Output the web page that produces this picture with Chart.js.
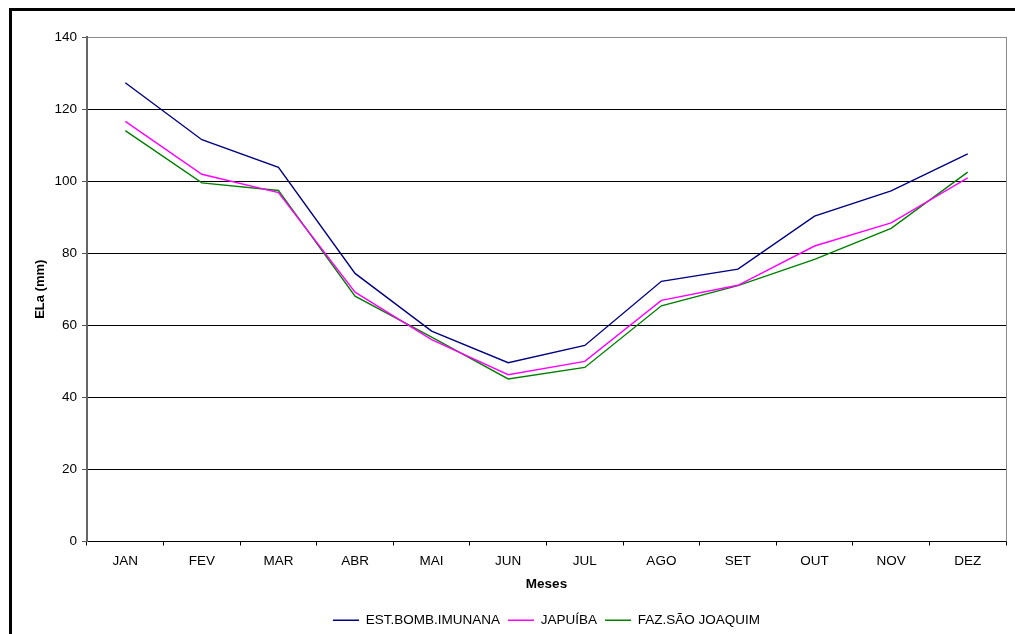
<!DOCTYPE html>
<html>
<head>
<meta charset="utf-8">
<script src="https://cdn.jsdelivr.net/npm/chart.js@4/dist/chart.umd.min.js"></script>
<style>
  html, body { margin: 0; padding: 0; background: #fff; overflow: hidden; }
  #wrap { position: relative; width: 1015px; height: 634px; }
  #frame { position: absolute; left: 9px; top: 8px; width: 1100px; height: 700px; border: 3px solid #000; box-sizing: border-box; pointer-events: none; }
  canvas { position: absolute; left: 0; top: 0; }
</style>
</head>
<body>
<div id="wrap">
  <canvas id="c" width="1015" height="634"></canvas>
  <div id="frame"></div>
</div>
<script>
// Evapotranspiração real mensal (mm) por estação
const months = ['JAN','FEV','MAR','ABR','MAI','JUN','JUL','AGO','SET','OUT','NOV','DEZ'];
const estBombImunana = [127.3, 111.5, 103.8, 74.4, 58.4, 49.6, 54.4, 72.2, 75.6, 90.3, 97.3, 107.6];
const japuiba        = [116.6, 101.9, 96.8, 69.2, 56.0, 46.3, 50.0, 66.9, 71.1, 82.0, 88.4, 100.9];
const fazSaoJoaquim  = [114.0, 99.5, 97.4, 68.1, 56.7, 45.1, 48.3, 65.4, 71.0, 78.3, 86.9, 102.5];
const yTicks = { min: 0, max: 140, step: 20 };

const FONT = 'Liberation Sans, Arial, sans-serif';

// right-hand border of the plot area
const plotBorder = {
  id: 'plotBorder',
  afterDraw(chart) {
    const { ctx, chartArea: a } = chart;
    ctx.save();
    ctx.strokeStyle = '#8c8c8c';
    ctx.lineWidth = 1;
    ctx.beginPath();
    ctx.moveTo(a.right + 0.5, a.top);
    ctx.lineTo(a.right + 0.5, a.bottom);
    ctx.stroke();
    ctx.restore();
  }
};

new Chart(document.getElementById('c'), {
  type: 'line',
  data: {
    labels: months,
    datasets: [
      { label: 'EST.BOMB.IMUNANA', data: estBombImunana, borderColor: '#000080', backgroundColor: '#000080' },
      { label: 'JAPUÍBA', data: japuiba, borderColor: '#ff00ff', backgroundColor: '#ff00ff' },
      { label: 'FAZ.SÃO JOAQUIM', data: fazSaoJoaquim, borderColor: '#008000', backgroundColor: '#008000' }
    ].map(d => Object.assign(d, { borderWidth: 1.4, pointRadius: 0, tension: 0, fill: false }))
  },
  plugins: [plotBorder],
  options: {
    responsive: false,
    animation: false,
    devicePixelRatio: 1,
    layout: { padding: { top: 37, right: 9, left: 0, bottom: -3 } },
    plugins: {
      tooltip: { enabled: false },
      legend: {
        position: 'bottom',
        fullSize: false,
        labels: {
          font: { family: FONT, size: 13.5 },
          color: '#000',
          usePointStyle: true,
          pointStyleWidth: 26,
          pointStyle: 'line',
          boxHeight: 13,
          padding: 8
        }
      }
    },
    scales: {
      x: {
        offset: true,
        grid: { offset: true, drawOnChartArea: false, color: '#000', tickLength: 4, tickWidth: 1 },
        border: { color: '#000', width: 1 },
        ticks: { font: { family: FONT, size: 13.5 }, color: '#000', padding: 8, maxRotation: 0 },
        title: { display: true, text: 'Meses', font: { family: FONT, size: 13.5, weight: 'bold' }, color: '#000', padding: { top: 4, bottom: 13 } },
        afterFit(s) { s.height = 64; }
      },
      y: {
        min: yTicks.min,
        max: yTicks.max,
        ticks: { stepSize: yTicks.step, font: { family: FONT, size: 13.5 }, color: '#000', padding: 5 },
        grid: {
          color: c => (c.tick && c.tick.value === yTicks.max) ? '#8c8c8c' : '#000',
          tickColor: '#555',
          tickLength: 5,
          lineWidth: 1
        },
        border: { color: '#666', width: 2 },
        title: { display: true, text: 'ELa (mm)', font: { family: FONT, size: 13, weight: 'bold' }, color: '#000', padding: { top: 33, bottom: 0 } },
        afterFit(s) { s.width = 87; }
      }
    }
  }
});
</script>
</body>
</html>
